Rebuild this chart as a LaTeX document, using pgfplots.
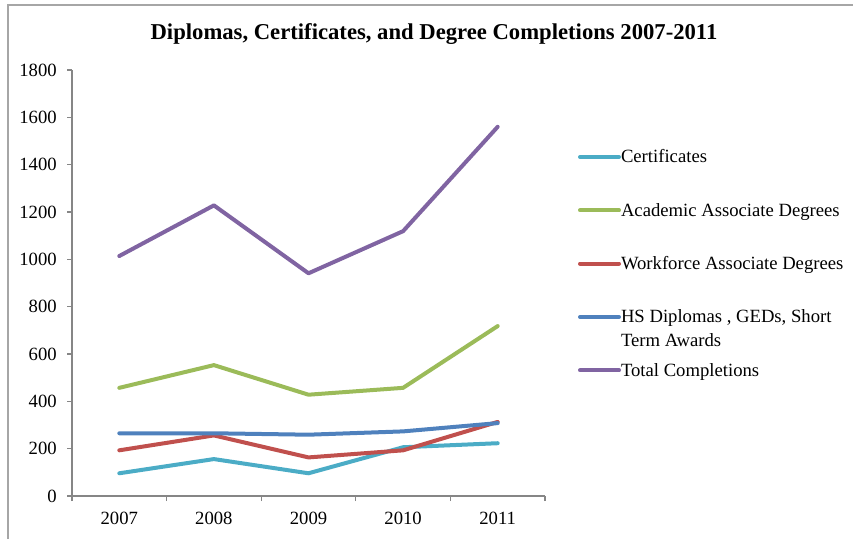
\documentclass[border=0pt]{standalone}
\usepackage{pgfplots}
\pgfplotsset{compat=1.18}
\usepackage{fontspec}
\setmainfont{Liberation Serif}
\definecolor{cCert}{HTML}{4BACC6}
\definecolor{cAcad}{HTML}{9BBB59}
\definecolor{cWork}{HTML}{C0504D}
\definecolor{cHS}{HTML}{4F81BD}
\definecolor{cTot}{HTML}{8064A2}
\definecolor{axgray}{HTML}{868686}
\definecolor{framegray}{HTML}{A6A6A6}
\begin{document}
\begin{tikzpicture}
\useasboundingbox (0pt,0pt) rectangle (639.75pt,404.25pt);
\draw[color=framegray, line width=1.1pt] (6pt,0pt) -- (6pt,400.5pt) -- (639.75pt,400.5pt);
\node[anchor=base, inner sep=0pt, font=\bfseries\fontsize{17}{20}\selectfont] at (325.5pt,374.25pt) {Diplomas, Certificates, and Degree Completions 2007-2011};
\begin{axis}[
  at={(54pt,32.25pt)}, anchor=south west,
  scale only axis, width=354.75pt, height=319.5pt,
  xmin=-0.5, xmax=4.5, ymin=0, ymax=1800,
  axis x line*=bottom, axis y line*=left,
  x axis line style={-}, y axis line style={-},
  axis line style={color=axgray, line width=1pt},
  xtick={0,1,2,3,4},
  xticklabels={2007,2008,2009,2010,2011},
  minor xtick={-0.5,0.5,1.5,2.5,3.5,4.5},
  major x tick style={draw=none},
  ytick={0,200,...,1800},
  tick align=outside,
  major tick length=3.75pt, minor tick length=3.75pt,
  every tick/.style={color=axgray, line width=0.8pt},
  /pgf/number format/assume math mode=true,
  /pgf/number format/1000 sep={},
  ticklabel style={font=\fontsize{14}{16}\selectfont},
  yticklabel style={anchor=east, inner sep=0pt, xshift=-7.5pt},
  xticklabel style={anchor=north, inner sep=0pt, yshift=-8pt},
  clip=false,
  legend style={draw=none, fill=none, inner sep=0pt, outer sep=0pt,
    at={(1.0698,0.813)}, anchor=north west,
    row sep=27pt, column sep=0pt,
    font=\fontsize{14}{18}\selectfont,
    nodes={inner sep=0pt, text height=10pt, text depth=3pt, anchor=base west}},
  legend cell align=left,
  legend image code/.code={\draw[#1] (0pt,4.5pt) -- (29.25pt,4.5pt);},
  every axis plot/.append style={line width=3pt, line cap=round, line join=round},
]
\addplot[color=cCert] coordinates {(0,96) (1,156) (2,96) (3,206) (4,223)};
\addlegendentry{Certificates}
\addplot[color=cAcad] coordinates {(0,457) (1,553) (2,428) (3,457) (4,718)};
\addlegendentry{Academic Associate Degrees}
\addplot[color=cWork] coordinates {(0,193) (1,256) (2,163) (3,193) (4,313)};
\addlegendentry{Workforce Associate Degrees}
\addplot[color=cHS] coordinates {(0,265) (1,265) (2,259) (3,273) (4,308)};
\addlegendentry{\smash{\begin{tabular}[t]{@{}l@{}}HS Diplomas , GEDs, Short\\Term Awards\end{tabular}}}
\addplot[color=cTot] coordinates {(0,1014) (1,1228) (2,941) (3,1119) (4,1560)};
\addlegendentry{Total Completions}
\end{axis}
\end{tikzpicture}
\end{document}
